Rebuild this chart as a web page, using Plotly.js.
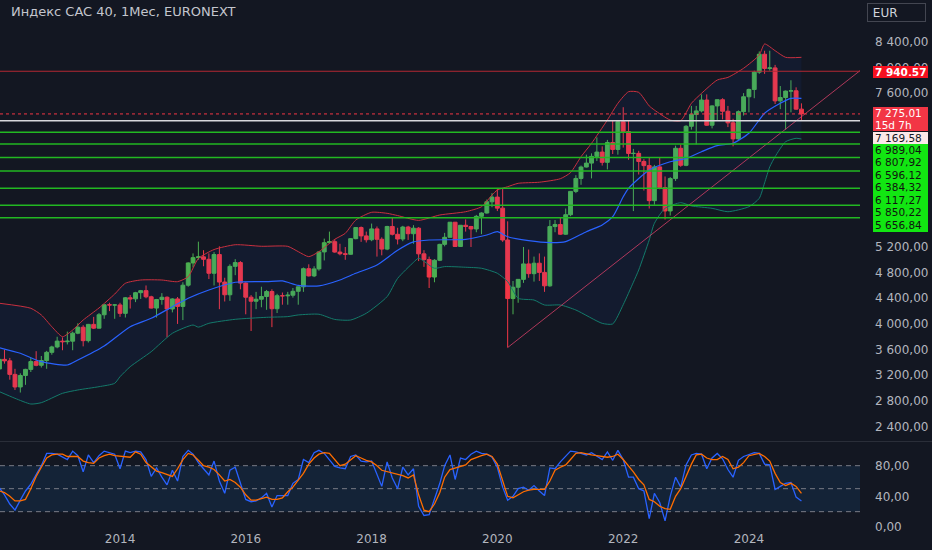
<!DOCTYPE html>
<html><head><meta charset="utf-8">
<script src="https://cdn.plot.ly/plotly-3.0.1.min.js"></script>
<style>html,body{margin:0;padding:0;background:#131722;}#chart{width:932px;height:550px;}</style>
</head><body><div id="chart"></div>
<script>
// ---------- DATA ----------
const months = [
'2012-02','2012-03','2012-04','2012-05','2012-06','2012-07','2012-08','2012-09','2012-10','2012-11','2012-12',
'2013-01','2013-02','2013-03','2013-04','2013-05','2013-06','2013-07','2013-08','2013-09','2013-10','2013-11','2013-12',
'2014-01','2014-02','2014-03','2014-04','2014-05','2014-06','2014-07','2014-08','2014-09','2014-10','2014-11','2014-12',
'2015-01','2015-02','2015-03','2015-04','2015-05','2015-06','2015-07','2015-08','2015-09','2015-10','2015-11','2015-12',
'2016-01','2016-02','2016-03','2016-04','2016-05','2016-06','2016-07','2016-08','2016-09','2016-10','2016-11','2016-12',
'2017-01','2017-02','2017-03','2017-04','2017-05','2017-06','2017-07','2017-08','2017-09','2017-10','2017-11','2017-12',
'2018-01','2018-02','2018-03','2018-04','2018-05','2018-06','2018-07','2018-08','2018-09','2018-10','2018-11','2018-12',
'2019-01','2019-02','2019-03','2019-04','2019-05','2019-06','2019-07','2019-08','2019-09','2019-10','2019-11','2019-12',
'2020-01','2020-02','2020-03','2020-04','2020-05','2020-06','2020-07','2020-08','2020-09','2020-10','2020-11','2020-12',
'2021-01','2021-02','2021-03','2021-04','2021-05','2021-06','2021-07','2021-08','2021-09','2021-10','2021-11','2021-12',
'2022-01','2022-02','2022-03','2022-04','2022-05','2022-06','2022-07','2022-08','2022-09','2022-10','2022-11','2022-12',
'2023-01','2023-02','2023-03','2023-04','2023-05','2023-06','2023-07','2023-08','2023-09','2023-10','2023-11','2023-12',
'2024-01','2024-02','2024-03','2024-04','2024-05','2024-06','2024-07','2024-08','2024-09','2024-10','2024-11'];

const openPrices = [
3298,3447,3424,3213,3017,3196,3291,3413,3355,3429,3557,
3641,3732,3723,3731,3856,3948,3739,3993,3934,4143,4299,4295,
4296,4165,4408,4391,4487,4519,4423,4247,4381,4416,4233,4390,
4273,4604,4951,5034,5046,5008,4790,5082,4653,4455,4898,4957,
4637,4417,4354,4385,4428,4506,4237,4440,4438,4448,4509,4579,
4862,4749,4858,5123,5267,5283,5121,5094,5086,5330,5503,5373,
5313,5482,5320,5167,5520,5398,5324,5511,5407,5493,5093,5004,
4731,4993,5241,5351,5586,5208,5539,5519,5481,5678,5730,5905,
5978,5806,5309,4396,4572,4695,4936,4784,4947,4804,4594,5518,
5551,5399,5703,6067,6269,6447,6508,6613,6680,6520,6830,6721,
7153,7000,6659,6660,6534,6469,5923,6449,6125,5762,6267,6739,
6474,7082,7268,7322,7492,7099,7400,7497,7317,7136,6886,7311,
7543,7657,7927,8206,7985,7993,7479,7531,7631,7636,7350];

const highPrices = [
3480,3600,3470,3300,3230,3300,3470,3575,3500,3580,3660,
3800,3790,3880,3880,4010,3980,4000,4110,4170,4300,4330,4310,
4330,4420,4450,4500,4530,4600,4440,4390,4480,4430,4400,4420,
4650,4960,5100,5283,5150,5100,5120,5210,4720,4930,5010,4980,
4650,4450,4500,4580,4530,4540,4470,4490,4500,4560,4580,4880,
4930,4900,5130,5330,5440,5320,5250,5200,5340,5510,5520,5440,
5565,5520,5350,5530,5660,5500,5530,5530,5540,5510,5150,5050,
5010,5250,5420,5590,5590,5540,5630,5530,5700,5740,5940,6040,
6110,6111,5600,4670,4700,5200,5160,5050,5100,5050,5620,5620,
5660,5800,6070,6320,6470,6640,6660,6910,6770,6870,7180,7180,
7380,7170,6730,6700,6570,6600,6480,6600,6300,6290,6780,6800,
7100,7400,7400,7580,7580,7410,7500,7520,7400,7200,7330,7600,
7670,7950,8250,8260,8260,8040,7710,7640,7800,7690,7440];

const lowPrices = [
3287,3380,3130,2970,2930,3050,3250,3340,3320,3300,3520,
3620,3590,3680,3590,3840,3650,3710,3920,3930,4080,4200,4080,
4110,4100,4240,4340,4390,4400,4240,4100,4300,3790,4180,4000,
4060,4580,4880,5000,4900,4700,4600,4230,4350,4360,4760,4540,
4150,3890,4230,4260,4220,3950,4170,4300,4300,4410,4300,4500,
4740,4730,4830,4990,5250,5110,5070,5000,5080,5320,5280,5270,
5290,5050,5070,5150,5380,5240,5290,5310,5250,4980,4890,4560,
4650,4980,5210,5350,5200,5200,5440,5200,5430,5400,5720,5820,
5760,5280,3632,4150,4330,4640,4720,4660,4670,4500,4580,5430,
5390,5390,5680,6040,6170,6440,6270,6540,6470,6410,6650,6640,
6750,6560,5760,6330,6080,5800,5860,6100,5628,5690,6230,6450,
6460,7030,6800,7300,7090,7050,7170,7190,7070,6770,6870,7250,
7300,7520,7900,7900,7950,7430,7350,7030,7300,7340,7165];

const closePrices = [
3447,3424,3213,3017,3196,3291,3413,3355,3429,3557,3641,
3732,3723,3731,3856,3948,3739,3993,3934,4143,4299,4295,4296,
4165,4408,4391,4487,4519,4423,4247,4381,4416,4233,4390,4273,
4604,4951,5034,5046,5008,4790,5082,4653,4455,4898,4957,4637,
4417,4354,4385,4428,4506,4237,4440,4438,4448,4509,4579,4862,
4749,4858,5123,5267,5283,5121,5094,5086,5330,5503,5373,5313,
5482,5320,5167,5520,5398,5324,5511,5407,5493,5093,5004,4731,
4993,5241,5351,5586,5208,5539,5519,5481,5678,5730,5905,5978,
5806,5309,4396,4572,4695,4936,4784,4947,4804,4594,5518,5551,
5399,5703,6067,6269,6447,6508,6613,6680,6520,6830,6721,7153,
7000,6659,6660,6534,6469,5923,6449,6125,5762,6267,6739,6474,
7082,7268,7322,7492,7099,7400,7497,7317,7136,6886,7311,7543,
7657,7927,8206,7985,7993,7479,7531,7631,7636,7350,7275];

// Bollinger bands at selected months
const upperDates = ['2012-02','2012-08','2012-10','2012-12','2013-02','2013-04','2013-06','2013-09','2013-12','2014-02','2014-05','2014-09','2014-12','2015-02','2015-04','2015-07','2015-11','2016-04','2016-09','2016-11','2017-01','2017-03','2017-06','2017-08','2017-10','2018-01','2018-04','2018-06','2018-10','2019-02','2019-07','2019-10','2019-12','2020-01','2020-03','2020-05','2020-09','2021-01','2021-03','2021-05','2021-07','2021-10','2021-12','2022-02','2022-04','2022-06','2022-07','2022-10','2022-12','2023-02','2023-04','2023-07','2023-09','2023-12','2024-03','2024-04','2024-06','2024-08','2024-11'];
const upperValues = [4322,4244,4140,3957,3801,3905,4061,4249,4466,4634,4685,4685,4659,4737,5020,5160,5235,5211,5210,5127,5049,5127,5320,5413,5620,5741,5725,5690,5615,5699,5750,5828,6010,6088,6140,6193,6210,6265,6360,6608,6817,7180,7441,7622,7612,7400,7336,7180,7169,7441,7597,7804,7845,7987,8194,8366,8261,8158,8158];

const middleDates = ['2012-02','2012-06','2012-10','2013-03','2013-05','2013-10','2014-03','2014-07','2014-11','2015-02','2015-06','2015-11','2016-05','2016-08','2016-11','2017-03','2017-07','2017-10','2018-02','2018-06','2018-09','2018-12','2019-07','2019-11','2020-01','2020-03','2020-07','2020-11','2021-02','2021-06','2021-09','2021-11','2022-01','2022-02','2022-06','2022-10','2023-01','2023-04','2023-07','2023-10','2024-01','2024-04','2024-07','2024-09','2024-11'];
const middleValues = [3630,3542,3411,3360,3437,3656,3957,4088,4269,4400,4529,4650,4659,4670,4600,4592,4685,4790,4919,5150,5280,5309,5320,5387,5438,5360,5298,5267,5283,5438,5543,5673,5984,6115,6400,6530,6582,6686,6780,6817,6973,7285,7441,7519,7519];

const lowerDates = ['2012-02','2012-05','2012-08','2012-10','2013-02','2013-05','2013-09','2013-12','2014-01','2014-03','2014-07','2014-11','2015-03','2015-04','2015-06','2015-11','2016-05','2016-09','2016-11','2017-03','2017-06','2017-09','2017-12','2018-04','2018-06','2018-09','2018-10','2019-01','2019-03','2019-07','2019-10','2020-01','2020-03','2020-05','2020-08','2020-10','2021-01','2021-04','2021-09','2021-11','2022-01','2022-03','2022-04','2022-06','2022-07','2022-09','2022-12','2023-02','2023-06','2023-09','2024-01','2024-03','2024-04','2024-05','2024-06','2024-08','2024-10','2024-11'];
const lowerValues = [2943,2840,2751,2772,2918,2970,3021,3074,3177,3333,3567,3854,3983,3950,4010,4072,4103,4114,4140,4151,4070,4061,4166,4426,4710,4960,5024,4868,4894,4884,4868,4790,4659,4400,4373,4295,4295,4217,4009,4000,4300,4650,4841,5309,5569,5803,5891,5840,5803,5750,5828,5959,6200,6450,6608,6842,6895,6884];

// Stochastic (%K blue, %D orange), one value per month
const stochK = [
51,42,30,22,35,47,56,68,80,96,96,
95,91,88,99,93,72,94,84,93,99,97,95,
76,99,97,99,98,88,66,77,65,55,74,60,
92,100,95,84,76,68,86,60,44,74,78,57,
36,33,34,38,44,26,41,41,41,57,62,88,
84,97,100,96,88,79,77,76,92,94,86,85,
86,68,53,85,64,50,78,68,76,27,15,16,
36,57,80,94,62,90,88,95,99,96,95,91,
78,52,35,40,50,52,48,54,47,41,77,76,
85,92,99,98,96,94,97,93,88,98,87,100,
88,65,65,50,47,11,44,32,8,40,65,52,
81,94,96,95,76,90,96,89,75,65,87,92,
94,97,96,82,81,49,53,57,58,39,34];
const stochD = [
47,45,40,34,34,36,50,66,78,90,94,
95,95,92,92,92,86,84,83,90,93,95,93,
92,91,91,98,95,84,78,73,71,69,66,76,
88,96,94,87,80,78,75,68,60,62,58,52,
42,35,35,37,39,36,36,38,46,52,62,70,
82,90,95,97,96,88,80,82,87,93,90,87,
85,80,74,72,70,69,67,64,68,42,22,20,
30,45,65,75,77,79,81,88,91,93,95,92,
82,60,40,38,42,46,48,49,49,49,60,74,
78,81,88,96,97,95,94,93,92,91,92,95,
88,80,72,62,55,36,33,27,24,23,40,50,
67,82,94,95,90,88,88,92,88,76,78,84,
93,95,96,92,86,70,58,54,57,53,44];
const stochLevels = [80, 50, 20];
const stochTickValues = [0, 40, 80];

// Drawn levels
const resistanceLevel = 7940.57;
const currentPrice = 7275.01;
const countdownText = '15d 7h';
const whiteLevel = 7169.58;
const greenLevels = [6989.04, 6807.92, 6596.12, 6384.32, 6117.27, 5850.22, 5656.84];
const trendDates = ['2020-03-01', '2025-10-07'];
const trendValues = [3632, 7950];
const priceTickValues = [2400, 2800, 3200, 3600, 4000, 4400, 4800, 5200, 7600, 8000, 8400];
const titleText = 'Индекс CAC 40, 1Мес, EURONEXT';
const currencyText = 'EUR';

// ---------- CHART ----------
const fmt = v => { const p = v.toFixed(2).split('.'); return p[0].replace(/\B(?=(\d{3})+(?!\d))/g, ' ') + ',' + p[1]; };

const W = 932, H = 550, MR = 72, MB = 22;
const plotW = W - MR, plotH = H - MB;
const mainBottomPx = 441, stochTopPx = 442;
const Y_MIN = 2174.2, Y_MAX = 9051.9;
const S_MIN = -1.3, S_MAX = 110.9;
const FONT = 'DejaVu Sans, Noto Sans, sans-serif';
const TXT = '#b2b5be';

const natural = v => (Y_MAX - v) / (Y_MAX - Y_MIN) * mainBottomPx;
const px2py = p => (plotH - p) / plotH;

const traces = [
  {type:'scatter', mode:'lines', x: lowerDates, y: lowerValues, line:{color:'#137a6b', width:1, shape:'spline', smoothing:0.6}, hoverinfo:'skip'},
  {type:'scatter', mode:'lines', x: upperDates, y: upperValues, fill:'tonexty', fillcolor:'rgba(41,98,255,0.06)', line:{color:'#c9303f', width:1, shape:'spline', smoothing:0.6}, hoverinfo:'skip'},
  {type:'scatter', mode:'lines', x: middleDates, y: middleValues, line:{color:'#2962ff', width:1.2, shape:'spline', smoothing:0.6}, hoverinfo:'skip'},
  {type:'scatter', mode:'lines', x: trendDates, y: trendValues, line:{color:'rgba(214,64,104,0.8)', width:1}, hoverinfo:'skip'},
  {type:'candlestick', x: months, open: openPrices, high: highPrices, low: lowPrices, close: closePrices,
   increasing:{line:{color:'#4caf50', width:1}, fillcolor:'#4caf50'},
   decreasing:{line:{color:'#f23645', width:1}, fillcolor:'#f23645'},
   whiskerwidth:0, hoverinfo:'skip'},
  {type:'scatter', mode:'lines', x: months, y: stochK, yaxis:'y2', line:{color:'#2962ff', width:1.3}, hoverinfo:'skip'},
  {type:'scatter', mode:'lines', x: months, y: stochD, yaxis:'y2', line:{color:'#ff6d00', width:1.3}, hoverinfo:'skip'}
];

const shapes = [];
shapes.push({type:'rect', xref:'paper', x0:0, x1:1, yref:'y2', y0:stochLevels[2], y1:stochLevels[0], fillcolor:'rgba(33,150,243,0.1)', line:{width:0}, layer:'below'});
stochLevels.forEach(l => shapes.push({type:'line', xref:'paper', x0:0, x1:1, yref:'y2', y0:l, y1:l, line:{color:'#787b86', width:1, dash:'5px,4px'}, layer:'below'}));
shapes.push({type:'line', xref:'paper', x0:0, x1:W/plotW, yref:'paper', y0:px2py(441.5), y1:px2py(441.5), line:{color:'#2a2e39', width:1}});
shapes.push({type:'line', xref:'paper', x0:0, x1:1, yref:'y', y0:resistanceLevel, y1:resistanceLevel, line:{color:'#b22833', width:1}});
shapes.push({type:'line', xref:'paper', x0:0, x1:1, yref:'y', y0:currentPrice, y1:currentPrice, line:{color:'#f23645', width:1, dash:'dot'}});
shapes.push({type:'line', xref:'paper', x0:0, x1:1, yref:'y', y0:whiteLevel, y1:whiteLevel, line:{color:'#d8d8dc', width:1.5}});
greenLevels.forEach(l => shapes.push({type:'line', xref:'paper', x0:0, x1:1, yref:'y', y0:l, y1:l, line:{color:'#22b822', width:1.5}}));

// right-hand price labels, stacked like the price scale
const LX = 873 / plotW, BOXW = 55, PAD = 2;
const ann = [];
function label(value, text, center, height, bg, color, weight) {
  ann.push({xref:'paper', x:LX, xanchor:'left', yref:'y', y:value, yanchor:'middle', yshift: natural(value) - center,
    text:text, showarrow:false, align:'left', width:BOXW - 2*PAD, height:Math.max(1, height - 2*PAD), bgcolor:bg, borderpad:PAD, borderwidth:0,
    font:{family:FONT, size:10.5, color:color, weight:weight || 'normal'}});
}
label(resistanceLevel, fmt(resistanceLevel), natural(resistanceLevel) + 0.4, 12, '#f7101f', '#ffffff', 'bold');
const pcTop = natural(currentPrice) - 7.5;
label(currentPrice, fmt(currentPrice), pcTop + 6.1, 12.3, '#f23645', '#ffffff');
label(currentPrice, countdownText, pcTop + 18.3, 12.3, '#f23645', '#ffffff');
const whiteCenter = Math.max(natural(whiteLevel), pcTop + 24.4 + 0.8 + 6.1);
label(whiteLevel, fmt(whiteLevel), whiteCenter, 12.2, '#fbe9e9', '#131722');
let cursor = whiteCenter + 6.1 + 0.4;
greenLevels.forEach(l => {
  const c = Math.max(natural(l), cursor + 6.25);
  label(l, fmt(l), c, 12.6, '#12e612', '#10140f');
  cursor = c + 6.25;
});
ann.push({xref:'paper', x:9/plotW, xanchor:'left', yref:'paper', y:px2py(12), yanchor:'middle', text:titleText, showarrow:false,
  font:{family:FONT, size:13, color:'#c3c6ce'}});
ann.push({xref:'paper', x:867/plotW, xanchor:'left', yref:'paper', y:px2py(12.5), yanchor:'middle', text:'&nbsp;' + currencyText, showarrow:false,
  align:'left', width:55, height:15, bordercolor:'#434651', borderwidth:1, borderpad:1, font:{family:FONT, size:12, color:'#d1d4dc'}});

const layout = {
  width:W, height:H, margin:{l:0, r:MR, t:0, b:MB, pad:0},
  paper_bgcolor:'#131722', plot_bgcolor:'#131722',
  showlegend:false, hovermode:false, boxgap:0.2, boxgroupgap:0,
  font:{family:FONT, color:TXT},
  xaxis:{type:'date', range:['2012-02-04','2025-10-07'], anchor:'y2', rangeslider:{visible:false},
    showgrid:false, zeroline:false, showline:false, ticks:'', tick0:'2014-01-01', dtick:'M24', tickformat:'%Y',
    tickfont:{family:FONT, size:12, color:TXT}, ticklabelstandoff:2},
  yaxis:{domain:[px2py(mainBottomPx), 1], range:[Y_MIN, Y_MAX], side:'right', anchor:'x', showgrid:false, zeroline:false, showline:false,
    ticks:'', tickvals:priceTickValues, ticktext:priceTickValues.map(fmt), tickfont:{family:FONT, size:12, color:TXT}, ticklabelstandoff:14},
  yaxis2:{domain:[0, px2py(stochTopPx)], range:[S_MIN, S_MAX], side:'right', anchor:'x', showgrid:false, zeroline:false, showline:false,
    ticks:'', tickvals:stochTickValues, ticktext:stochTickValues.map(fmt), tickfont:{family:FONT, size:12, color:TXT}, ticklabelstandoff:14},
  shapes:shapes, annotations:ann
};
Plotly.newPlot('chart', traces, layout, {staticPlot:true, displayModeBar:false});
</script></body></html>
